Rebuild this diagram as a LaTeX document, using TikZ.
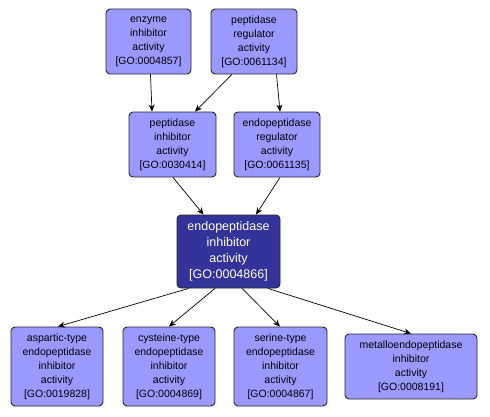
\documentclass[tikz,border=0pt]{standalone}
\usepackage{fontspec}
\setmainfont{Liberation Sans}
\usetikzlibrary{arrows.meta}
\definecolor{lightgo}{HTML}{9999FF}
\definecolor{darkgo}{HTML}{333399}
\begin{document}
\begin{tikzpicture}[x=1pt,y=-1pt,
  goterm/.style={draw=black!85, line width=0.9pt, rounded corners=4pt, fill=lightgo, align=center,
    inner sep=0pt, font=\fontsize{10.5}{14}\selectfont},
  gomain/.style={draw=black!85, line width=0.9pt, rounded corners=4pt, fill=darkgo, text=white, align=center,
    inner sep=0pt, font=\fontsize{12.5}{16}\selectfont},
  arr/.style={draw=black, line width=0.7pt, -{Stealth[length=7pt,width=6pt]}}]
\useasboundingbox (0,0) rectangle (490,416);
\fill[white] (0,0) rectangle (490,416);
% top row
\node[goterm, minimum width=85pt, minimum height=65pt] (ena) at (148.5,41.5) {enzyme\\inhibitor\\activity\\{[GO:0004857]}};
\node[goterm, minimum width=86pt, minimum height=65pt] (pra) at (254,41.5) {peptidase\\regulator\\activity\\{[GO:0061134]}};
% second row
\node[goterm, minimum width=87pt, minimum height=65pt] (pia) at (172.5,144.5) {peptidase\\inhibitor\\activity\\{[GO:0030414]}};
\node[goterm, minimum width=86pt, minimum height=65pt] (era) at (277,144.5) {endopeptidase\\regulator\\activity\\{[GO:0061135]}};
% center
\node[gomain, minimum width=103pt, minimum height=73pt] (cen) at (228.5,251.5) {endopeptidase\\inhibitor\\activity\\{[GO:0004866]}};
% bottom row
\node[goterm, minimum width=92pt, minimum height=79pt] (asp) at (57,366.5) {aspartic-type\\endopeptidase\\inhibitor\\activity\\{[GO:0019828]}};
\node[goterm, minimum width=92pt, minimum height=79pt] (cys) at (169,366.5) {cysteine-type\\endopeptidase\\inhibitor\\activity\\{[GO:0004869]}};
\node[goterm, minimum width=93pt, minimum height=79pt] (ser) at (280.5,366.5) {serine-type\\endopeptidase\\inhibitor\\activity\\{[GO:0004867]}};
\node[goterm, minimum width=132pt, minimum height=65pt] (met) at (411,366.5) {metalloendopeptidase\\inhibitor\\activity\\{[GO:0008191]}};
% edges
\draw[arr] ([xshift=2pt]ena.south) -- ([xshift=-20.5pt]pia.north);
\draw[arr] ([xshift=-22pt]pra.south) -- ([xshift=22.5pt]pia.north);
\draw[arr] ([xshift=22.5pt]pra.south) -- ([xshift=3pt]era.north);
\draw[arr] ([xshift=0.5pt]pia.south) -- ([xshift=-25pt]cen.north);
\draw[arr] ([xshift=3pt]era.south) -- ([xshift=27.5pt]cen.north);
\draw[arr] ([xshift=-40pt]cen.south) -- ([xshift=1pt]asp.north);
\draw[arr] ([xshift=-13.5pt]cen.south) -- ([xshift=0pt]cys.north);
\draw[arr] ([xshift=13.5pt]cen.south) -- ([xshift=-0.5pt]ser.north);
\draw[arr] ([xshift=39.5pt]cen.south) -- ([xshift=0pt]met.north);
\end{tikzpicture}
\end{document}
